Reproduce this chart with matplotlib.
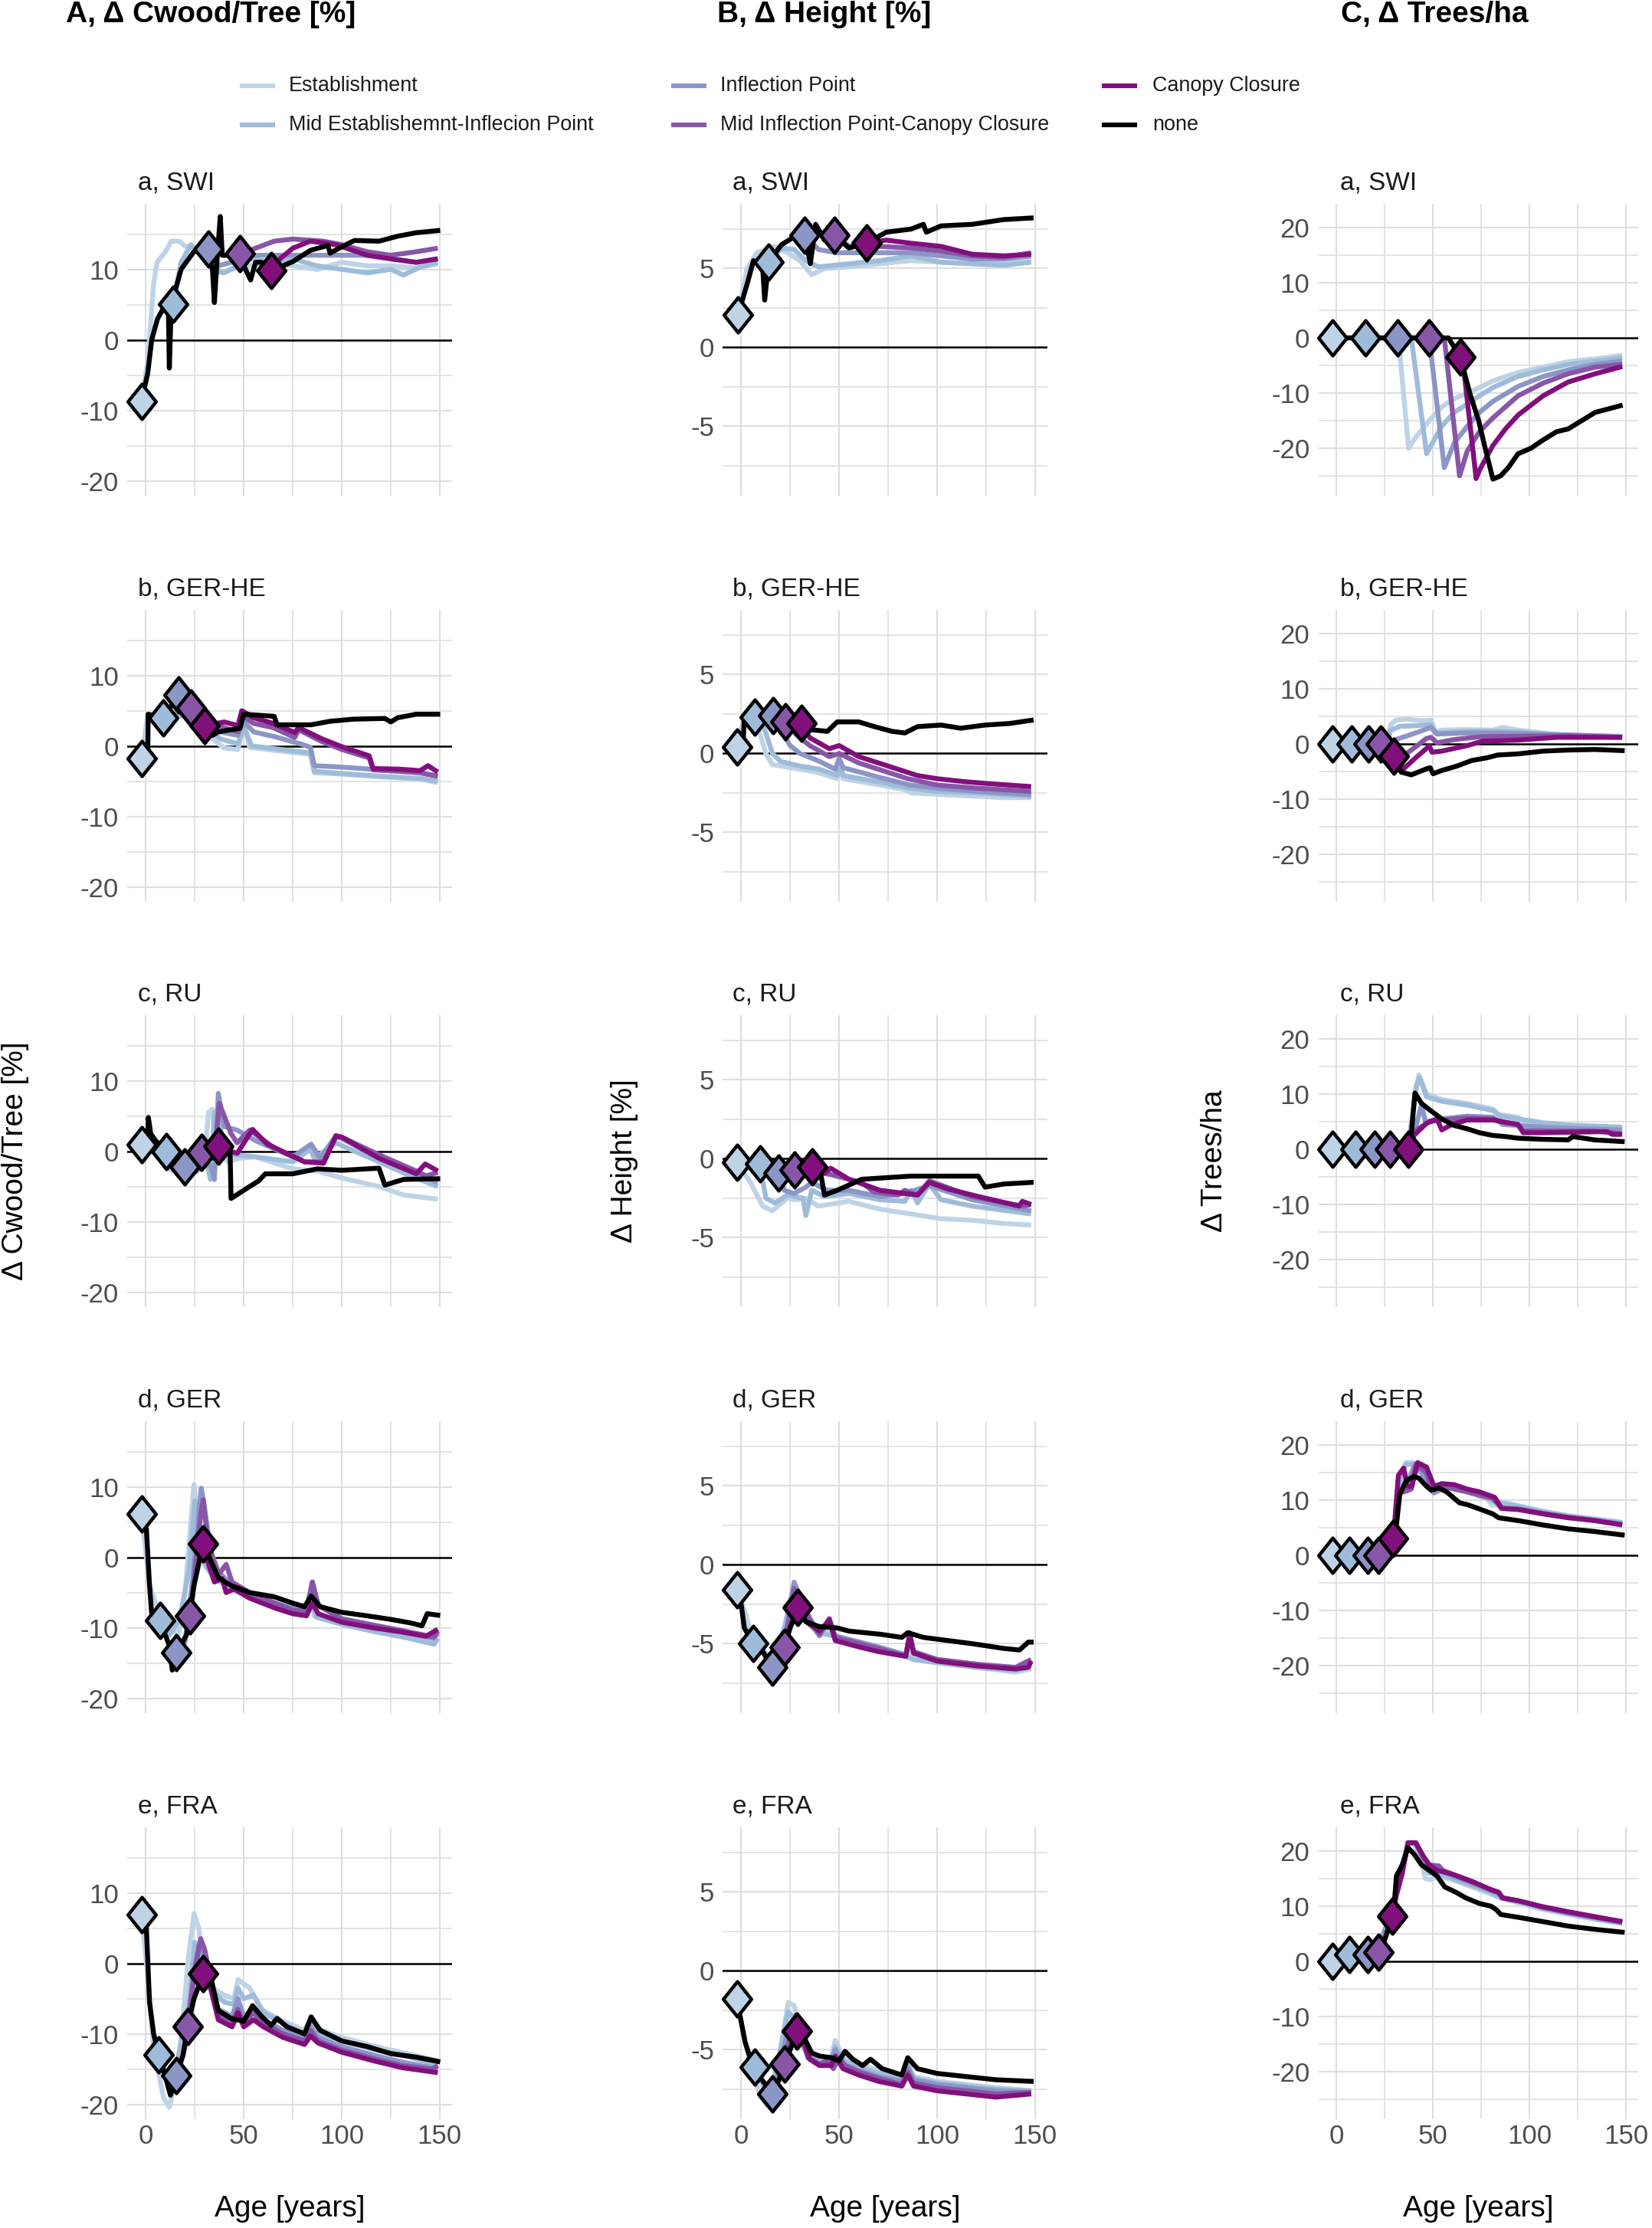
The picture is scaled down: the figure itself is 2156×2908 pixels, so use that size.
import matplotlib
matplotlib.use("Agg")
import matplotlib.pyplot as plt
from matplotlib.path import Path
from matplotlib.lines import Line2D

plt.rcParams["font.family"] = ["Liberation Sans", "DejaVu Sans"]

# ---------------------------------------------------------------- labels
SERIES_KEYS = ["est", "mid_est", "infl", "mid_infl", "cc", "none"]
SERIES_LABELS = ["Establishment", "Mid Establishemnt-Inflecion Point", "Inflection Point",
                 "Mid Inflection Point-Canopy Closure", "Canopy Closure", "none"]
SERIES_COLORS = ["#bfd3e6", "#9ebcda", "#8c96c6", "#8856a7", "#810f7c", "#000000"]
SITE_LABELS = ["a, SWI", "b, GER-HE", "c, RU", "d, GER", "e, FRA"]
METRIC_TITLES = ["A, \u0394 Cwood/Tree [%]", "B, \u0394 Height [%]", "C, \u0394 Trees/ha"]
Y_LABELS = ["\u0394 Cwood/Tree [%]", "\u0394 Height [%]", "\u0394 Trees/ha"]
X_LABEL = "Age [years]"
X_TICKS = [0, 50, 100, 150]
X_MINOR = [25, 75, 125]
Y_TICKS = [[-20, -10, 0, 10], [-5, 0, 5], [-20, -10, 0, 10, 20]]
Y_MINOR = [[-15, -5, 5, 15], [-7.5, -2.5, 2.5, 7.5], [-25, -15, -5, 5, 15]]

# ---------------------------------------------------------------- data: (age, value)
# ---- SWI
CWOOD_SWI = {
    "est": [(-2.2, -8.7), (1, -3), (4, 8), (5.7, 11), (10, 12.5), (13, 14), (17, 14), (20, 13.3), (25, 13),
            (31, 11), (37, 9.5), (43.5, 10), (53, 10.5), (63, 11), (75, 10.5), (87.5, 10), (100, 11),
            (113, 10.5), (125, 10.5), (138, 10.2), (149, 10.8)],
    "mid_est": [(14, 5.1), (18, 11), (23, 13.5), (28, 12), (35.5, 10), (40, 9.5), (43.5, 10), (53, 11.5),
                (65.5, 11), (75, 11.5), (87.5, 10.5), (100, 10), (113, 9.5), (125, 10), (131.5, 9.2),
                (140, 10.3), (149, 11)],
    "infl": [(32, 12.9), (37, 10.5), (43.5, 11), (53, 12), (75, 12), (84, 12), (100, 12), (113, 12),
             (125, 11.5), (138, 11), (149, 11.5)],
    "mid_infl": [(48, 12.2), (56, 13), (65.5, 14), (75, 14.3), (90.5, 14), (100, 13.5), (113, 12.5),
                 (125, 12), (138, 12.5), (149, 13)],
    "cc": [(64, 9.9), (68.5, 11.5), (75, 13), (84, 14), (97, 13.5), (113, 12), (125, 11.5), (138, 11),
           (149, 11.5)],
    "none": [(-2.2, -8.7), (1, -4.7), (3, 0), (6, 3), (10, 5), (11.5, 4.5), (12, -4), (13, 5), (18, 10),
             (24.5, 12.5), (32, 12.9), (34, 10), (35, 5.3), (36.5, 12), (38, 17.5), (39, 12), (43.5, 12),
             (47.5, 12.2), (50, 10.5), (53.5, 8.5), (56, 11), (59, 11), (64, 9.9), (70, 10.5), (75, 11.1),
             (84, 12.7), (93, 13.4), (94, 12.3), (100, 13.2), (106.5, 14.1), (119, 14), (128.5, 14.7),
             (138, 15.2), (149, 15.5)],
}
HEIGHT_SWI = {
    "est": [(-1.6, 2.06), (3, 5), (8, 6), (17, 6.4), (23.6, 6), (30, 5.5), (36, 4.6), (42.5, 5), (55, 5.1),
            (71, 5.3), (86.7, 5.5), (102, 5.4), (118, 5.3), (134, 5.3), (148, 5.5)],
    "mid_est": [(14, 5.4), (20.5, 6.3), (27, 6.2), (33, 5.5), (39.4, 5.1), (55, 5.3), (71, 5.5),
                (86.7, 5.8), (102, 5.4), (134, 5.2), (148, 5.4)],
    "infl": [(32.5, 7.1), (39.4, 6.2), (48.8, 6.0), (71, 6.0), (86.7, 6.0), (102, 5.8), (118, 5.6),
             (134, 5.6), (148, 5.8)],
    "mid_infl": [(47.6, 7.1), (55, 6.4), (71, 6.4), (86.7, 6.3), (102, 6.1), (118, 5.8), (134, 5.7),
                 (148, 6.0)],
    "cc": [(64, 6.6), (74, 6.8), (86.7, 6.6), (102, 6.4), (118, 5.9), (134, 5.8), (148, 5.9)],
    "none": [(-1.6, 2.06), (3, 4), (6.3, 5.5), (11, 5), (12, 3), (14, 5.4), (20.5, 6.5), (27, 7),
             (32.5, 7.1), (35.3, 5.3), (38, 7.8), (42.5, 6.8), (47.6, 7.1), (55, 6.3), (64, 6.6), (74, 7.3),
             (86.7, 7.5), (93, 7.8), (94.5, 7.3), (102, 7.7), (118, 7.8), (134, 8.1), (148, 8.2)],
}
TREES_SWI = {
    "est": [(-2.2, 0), (32, 0), (37.3, -20), (41, -18), (48, -15), (54.5, -12.5), (61, -11), (67.7, -10),
            (74, -9), (81, -7.8), (87.5, -7), (94, -6.3), (107, -5.3), (120, -4.3), (134, -3.8), (148, -3.2)],
    "mid_est": [(14.9, 0), (38.7, 0), (46.6, -21), (54.5, -16), (61, -13.5), (67.7, -12), (74, -10.5),
                (81, -9), (94, -7), (107, -5.8), (120, -4.8), (134, -4.2), (148, -3.6)],
    "infl": [(31.7, 0), (48, 0), (55.8, -23.5), (61, -19), (67.7, -16), (74, -13.5), (81, -11.5),
             (94, -8.8), (107, -7), (120, -5.8), (134, -4.8), (148, -4.2)],
    "mid_infl": [(47.9, 0), (55.8, 0), (63.7, -25), (67.7, -20.5), (74, -17), (81, -14.5), (94, -10.5),
                 (107, -8.2), (120, -6.5), (134, -5.3), (148, -4.8)],
    "cc": [(64.1, -3.5), (66, -6), (72.3, -25.5), (74, -24), (81, -19.5), (87.5, -16.5), (94, -14),
           (107, -10.5), (120, -8), (134, -6.5), (148, -5.2)],
    "none": [(-2.2, 0), (58, 0), (64.1, -3.5), (69, -10), (73.6, -15), (77, -20), (81, -25.6), (85, -25),
             (89, -23.5), (94, -21), (100.7, -20), (107, -18.5), (114, -17), (120, -16.5), (127, -15),
             (134, -13.5), (147, -12.3)],
}
# ---- GER-HE
CWOOD_GERHE = {
    "est": [(-2.2, -1.8), (1, 4.5), (8.8, 4), (17, 5), (25, 3.5), (30, 2.5), (34, 1), (40, -0.3),
            (47, -0.5), (50, 3.0), (53, -0.2), (65, -0.6), (84, -1.2), (86, -3.8), (100, -4.0), (120, -4.4),
            (140, -4.7), (149, -5.2)],
    "mid_est": [(8.8, 4), (15, 4.5), (22, 4), (30, 2.8), (38, 1.0), (47, 0.3), (50, 2.8), (54, 0),
                (66, -0.4), (84, -1.0), (86, -3.6), (100, -3.9), (120, -4.3), (140, -4.6), (149, -5.0)],
    "infl": [(16.7, 7.2), (22, 5), (30, 3.5), (38, 2.0), (47, 1.5), (50, 3.5), (55, 2.0), (66, 1.3),
             (80, 0.2), (84, -0.2), (86, -2.8), (100, -3.0), (120, -3.4), (140, -3.8), (149, -4.3)],
    "mid_infl": [(23, 5.4), (30, 3.8), (40, 2.6), (47, 2.0), (49, 4.4), (55, 3.2), (65, 2.6), (76, 1.2),
                 (78, 2.3), (90, 0.6), (100, -0.5), (114, -1.7), (116, -3.4), (130, -3.6), (140, -3.8),
                 (149, -4.3)],
    "cc": [(30, 2.9), (40, 3.4), (47, 2.9), (49, 5.0), (55, 4.0), (65, 3.2), (76, 1.9), (78, 2.6), (90, 1.0),
           (100, -0.1), (114, -1.4), (116, -3.2), (130, -3.3), (140, -3.5), (144, -2.8), (149, -3.7)],
    "none": [(-2.2, -1.8), (1, -1.5), (1.2, 4.5), (8.8, 4.0), (16.7, 7.2), (23, 5.4), (30, 2.9), (34, 1.5),
             (37, 2), (43.5, 2.3), (48, 2.5), (50, 4.5), (65.5, 4.2), (67, 3), (75, 3), (84.4, 3.0), (94, 3.5),
             (106, 3.8), (122, 3.9), (125, 3.4), (128.5, 4.0), (138, 4.5), (149, 4.5)],
}
HEIGHT_GERHE = {
    "est": [(-2.2, 0.4), (1.6, 2.3), (7, 2.3), (12.6, 0), (15.8, -0.7), (20.5, -0.8), (30, -1.0),
            (39, -1.2), (49, -1.6), (50.5, -0.8), (52, -1.6), (71, -2.0), (83.5, -2.3), (86.7, -2.5),
            (102, -2.6), (118, -2.7), (134, -2.8), (148, -2.8)],
    "mid_est": [(7, 2.3), (12, 1.5), (16, 0), (20, -0.5), (30, -0.8), (40, -1.0), (49, -1.4), (50.5, -0.5),
                (52, -1.4), (70, -1.8), (86, -2.2), (100, -2.4), (120, -2.5), (148, -2.7)],
    "infl": [(16.4, 2.4), (20, 1.5), (25, 0.5), (30, 0), (40, -0.5), (48, -1.0), (50, -0.3), (52, -0.9),
             (70, -1.5), (86, -2.0), (100, -2.2), (120, -2.4), (148, -2.6)],
    "mid_infl": [(22.7, 2.0), (28, 1.2), (35, 0.5), (45, -0.2), (50, 0), (60, -0.6), (70, -1.0),
                 (85, -1.6), (100, -2.0), (120, -2.2), (148, -2.4)],
    "cc": [(30.6, 1.9), (35, 1.0), (45, 0.3), (50, 0.5), (60, -0.2), (70, -0.6), (80, -1.0), (90, -1.4),
           (100, -1.6), (115, -1.8), (125, -1.9), (148, -2.1)],
    "none": [(-2.2, 0.4), (1, 0.6), (1.6, 2.3), (7, 2.3), (16.4, 2.4), (22.7, 2.0), (30.6, 1.9), (36, 1.5),
             (44, 1.4), (49, 2.0), (60, 2.0), (68, 1.7), (77, 1.4), (83.5, 1.3), (90, 1.7), (102, 1.8),
             (112, 1.6), (124.5, 1.8), (137, 1.9), (148, 2.1)],
}
TREES_GERHE = {
    "est": [(-2.2, 0), (26, 0), (28, 3.5), (30.7, 4.3), (36, 4.5), (44, 4.2), (49, 4.3), (51, 2.2),
            (54.5, 2.5), (67.7, 2.6), (81, 2.5), (86, 3.0), (94, 2.5), (107, 2.0), (120, 1.5), (134, 1.5),
            (148, 1.4)],
    "mid_est": [(7.9, 0), (26, 0), (28, 2.5), (33, 3.2), (41, 3.3), (49, 3.5), (51, 2.0), (67.7, 2.3),
                (81, 2.3), (94, 2.2), (107, 1.8), (134, 1.5), (148, 1.3)],
    "infl": [(16.6, 0), (26, 0), (30.7, 0.8), (41, 2), (49, 3.0), (52, 1.8), (67.7, 2.0), (81, 2.0),
             (94, 1.9), (120, 1.6), (148, 1.3)],
    "mid_infl": [(22.8, 0), (28, -1), (33.4, -2.5), (41, -0.5), (46.6, 1.0), (49, 1.2), (52, 0.2),
                 (61, 0.8), (74, 1.3), (94, 1.4), (120, 1.5), (148, 1.2)],
    "cc": [(29.7, -2.2), (34.7, -4.5), (41, -2.5), (46.6, -0.8), (48, -0.3), (49.4, -1.5), (54.5, -1.3),
           (67.7, -0.3), (75.6, 0.5), (94, 0.7), (114, 1.2), (148, 1.2)],
    "none": [(-2.2, 0), (25, 0), (29.7, -2.2), (33.4, -5.1), (38.7, -5.6), (46.6, -4.5), (48.5, -4.3),
             (50, -5.4), (54.5, -4.8), (62.4, -4), (70, -3), (78, -2.5), (83.5, -2), (94, -1.8), (107, -1.3),
             (120, -1.1), (134, -1.0), (148, -1.2)],
}
# ---- RU
CWOOD_RU = {
    "est": [(-2.2, 0.9), (5, 0), (12, -2.5), (18, -3.5), (25, -2), (30, -1), (32, 5.5), (34, 6), (36, 0),
            (42, -1.5), (48, -1.0), (56, -0.8), (75, -2.5), (87.5, -2.8), (100, -3.8), (119, -5),
            (131.5, -6.2), (149, -6.8)],
    "mid_est": [(10.4, 0), (15, -2), (20, -3), (27, -1.8), (31, -1.5), (33, -4), (35, 5.5), (37, 5.8),
                (40, -0.5), (46, -0.5), (56, -0.8), (75, -1.5), (84, 0.3), (86, -1), (97, 1.2), (100, 0.8),
                (119, -1.5), (135, -3.5), (149, -5)],
    "infl": [(19.8, -2.2), (25, -3), (30, -2), (33, -2), (35, -4), (37, 8.2), (40, 3.5), (46.6, 3),
             (56, 1.5), (75, -0.8), (84.4, 1.0), (89, -1.0), (97, 2.2), (100, 1.8), (119, -1.0), (138, -3.0),
             (149, -4.5)],
    "mid_infl": [(28.3, -0.2), (33, -1), (35, -1), (37.5, 6.8), (43.5, 2.5), (46.6, 1.2), (53, 3.0),
                 (65.5, 0.5), (81, -1.5), (90.7, -1.5), (97, 2.0), (100, 2.0), (119, -0.5), (138, -2.8),
                 (143, -3.5), (149, -3.0)],
    "cc": [(37.2, 0.7), (43.5, 0), (46.6, -0.3), (54.5, 3.1), (62, 1.0), (81, -1.5), (90.7, -1.7),
           (97, 2.2), (100, 2.0), (119, -1.0), (138, -3.2), (142.6, -1.8), (149, -2.8)],
    "none": [(-2.2, 0.9), (1, 1.5), (1.3, 4.8), (2.5, 2.5), (5, 1.5), (10.4, 0), (15, -1.5), (19.8, -2.2),
             (24, -1), (28.3, -0.2), (33, 0.5), (37.2, 0.7), (40, 0), (43, 0), (43.5, -6.7), (53, -5),
             (57.6, -4.2), (61, -3.2), (75, -3.2), (87.5, -2.5), (100, -2.7), (119, -2.4), (122, -4.8),
             (131.5, -4.0), (149, -3.9)],
}
HEIGHT_RU = {
    "est": [(-2.2, -0.2), (4.7, -1.5), (11, -3), (15.8, -3.3), (23.6, -2.5), (27, -2.6), (33, -2.5),
            (39.4, -3.0), (55, -2.7), (71, -3.2), (86.7, -3.5), (102, -3.8), (118, -3.9), (134, -4.1),
            (148, -4.2)],
    "mid_est": [(9.5, -0.3), (12.6, -2.5), (17.3, -2.8), (23.6, -2.3), (31.5, -2.5), (33, -3.6), (36, -2.0),
                (42.5, -2.4), (55, -2.2), (71, -2.6), (83.5, -2.7), (86.7, -2.0), (90, -2.8), (96, -1.6),
                (102, -2.6), (118, -3.0), (148, -3.5)],
    "infl": [(19, -0.9), (22, -2.0), (27, -2.2), (33, -1.8), (36, -1.5), (44, -2.0), (55, -2.0), (71, -2.4),
             (83.5, -2.2), (96, -1.7), (118, -2.6), (148, -3.3)],
    "mid_infl": [(27.4, -0.7), (36, -0.8), (45.7, -1.0), (55, -1.3), (61.5, -1.5), (67.7, -2.1), (80, -2.3),
                 (83.5, -2.0), (90, -2.3), (96, -1.4), (118, -2.4), (143.5, -3.0), (148, -2.9)],
    "cc": [(36.2, -0.5), (42.5, -0.9), (45.7, -0.6), (55, -1.3), (71, -2.0), (83.5, -2.2), (90, -2.3),
           (96, -1.5), (105, -1.9), (118, -2.3), (141.8, -3.0), (143.5, -2.7), (148, -2.9)],
    "none": [(-2.2, -0.2), (9.5, -0.3), (19, -0.9), (27.4, -0.7), (36.2, -0.5), (40, -0.5), (42.5, -2.3),
             (49, -2.0), (58, -1.5), (61.5, -1.3), (74, -1.2), (86.7, -1.1), (99, -1.1), (121, -1.1),
             (124.5, -1.8), (134, -1.6), (148, -1.5)],
}
TREES_RU = {
    "est": [(-2.2, 0), (37, 0), (40, 8), (42.6, 13.5), (46.6, 10), (54.5, 9.0), (67.7, 8.3), (81, 7.3),
            (84, 6.3), (94, 5.8), (96.7, 5.0), (107, 4.7), (120, 4.3), (134, 4.0), (148, 4.0)],
    "mid_est": [(9.6, 0), (37, 0), (41.3, 11.5), (43, 13), (46.6, 9.5), (54.5, 8.7), (67.7, 8.0), (81, 7.0),
                (85, 6.0), (94, 5.5), (107, 4.8), (120, 4.4), (148, 4.0)],
    "infl": [(19.5, 0), (37, 0), (41.3, 4.5), (44, 8), (46, 5.0), (54.5, 5.5), (67.7, 6.0), (81, 5.8),
             (86, 4.5), (94, 4.3), (107, 4.0), (120, 3.8), (148, 3.5)],
    "mid_infl": [(27.7, 0), (37, 0), (41.3, 3.5), (48, 5.0), (54.5, 5.3), (67.7, 5.7), (81, 5.5), (87.5, 4.8),
                 (94, 4.5), (96.7, 3.3), (107, 3.3), (134, 3.3), (148, 2.8)],
    "cc": [(37, 0), (40, 2.5), (46.6, 4.7), (52, 5.5), (54.5, 3.5), (59.8, 4.5), (67.7, 5.3), (81, 5.3),
           (94, 4.5), (96.7, 3.0), (107, 3.0), (140, 3.2), (143, 2.7), (148, 2.7)],
    "none": [(-2.2, 0), (37, 0), (38.5, 2), (40.6, 10.2), (44, 8.3), (48, 7.2), (54.5, 5.5), (61, 4.3),
             (67.7, 3.7), (74, 3.0), (81, 2.5), (87.5, 2.3), (94, 2.0), (107, 1.8), (120, 1.7), (122.4, 2.3),
             (133.6, 1.7), (148, 1.4)],
}
# ---- GER
CWOOD_GER = {
    "est": [(-2.2, 6.1), (1.9, -4), (5.7, -7), (12, -10), (16.7, -11), (20, -5), (23, 5), (24.6, 10.3),
            (26.8, 5), (29.3, 0), (34, -2.5), (43.5, -4.5), (53, -5.5), (65.5, -6.8), (75, -7.5), (81, -7.8),
            (84.4, -4.5), (86, -8.3), (100, -9.3), (116, -10.2), (131.5, -11), (147.4, -12.3), (149, -11.5)],
    "mid_est": [(7.2, -9), (12, -11), (17, -9), (22, -2), (25, 8), (27, 5), (30, -1), (35, -3), (44, -4.5),
                (53, -5.5), (66, -6.8), (75, -7.5), (82, -7.8), (84.5, -5.5), (87, -8.5), (100, -9.5),
                (116, -10.5), (131, -11.3), (147, -12.3), (149, -11.5)],
    "infl": [(15.7, -13.5), (20, -12), (24, -3), (27, 6), (28.3, 9.8), (30, 7), (33, 1), (37, -2),
             (44, -4), (53, -5.3), (66, -6.5), (75, -7.2), (82, -7.5), (85, -3.5), (88, -6.8), (100, -8.8),
             (116, -9.8), (131, -10.6), (147, -11.5), (149, -10.8)],
    "mid_infl": [(22.4, -8.3), (25, -2), (28, 6), (29.3, 8.2), (31, 4), (34, 0), (37, -2.5), (41, -1),
                 (44, -3.5), (53, -5), (66, -6.5), (75, -7.5), (82, -7.6), (85, -3.5), (88, -6.8),
                 (100, -8.7), (116, -9.6), (131, -10.4), (147, -11.3), (149, -10.5)],
    "cc": [(29.3, 1.9), (32, -1), (35, -3.5), (39, -3), (41, -5), (45, -4.5), (53, -5.8), (66, -7.2),
           (75, -8), (82, -8.3), (85, -6.5), (88, -8), (100, -9.2), (116, -10), (131, -10.6), (143, -11.2),
           (149, -10.2)],
    "none": [(-2.2, 6.1), (0.3, 4), (1.9, -4), (3, -8), (7.2, -9), (12, -12.5), (13.5, -16), (15.7, -13.5),
             (20.8, -11), (22.4, -8.3), (24.6, -4), (27.7, 0), (29.3, 1.9), (34, -1), (37, -2.9), (43.5, -4),
             (53, -5), (65.5, -5.6), (75, -6.5), (81, -7.0), (84.4, -5.5), (89, -7.0), (100, -7.8),
             (113, -8.3), (125, -8.8), (135, -9.3), (141, -9.7), (143.6, -8.0), (149, -8.2)],
}
HEIGHT_GER = {
    "est": [(-2.2, -1.6), (2, -3), (6, -4.8), (12, -5.5), (16, -6), (20, -5.5), (24, -3), (27, -1.3),
            (30, -2), (35, -3.8), (40, -4.5), (44, -4.2), (50, -4.6), (70, -5.3), (85, -5.8), (86, -5.0),
            (88, -6.0), (100, -6.2), (120, -6.5), (140, -6.8), (148, -6.6)],
    "mid_est": [(6.3, -5), (12, -5.6), (16, -6), (22, -4), (27, -1.2), (30, -2), (35, -3.8), (40, -4.3),
                (50, -4.6), (70, -5.3), (84, -5.8), (88, -6.0), (100, -6.2), (120, -6.5), (140, -6.7),
                (148, -6.4)],
    "infl": [(15.8, -6.5), (22, -5), (27, -1.1), (30, -2.0), (35, -3.6), (40, -4.5), (45, -3.5), (48, -4.5),
             (70, -5.2), (84, -5.7), (86, -4.5), (88, -5.6), (100, -6.0), (120, -6.3), (140, -6.6),
             (148, -6.3)],
    "mid_infl": [(22, -5.2), (27, -1.5), (30, -2.2), (35, -3.4), (40, -4.4), (45, -3.4), (48, -4.6),
                 (70, -5.3), (84, -5.8), (86, -4.3), (88, -5.5), (100, -6.0), (120, -6.3), (140, -6.5),
                 (148, -6.0)],
    "cc": [(29, -2.7), (33, -3.6), (40, -4.2), (45, -3.5), (48, -4.8), (60, -5.2), (70, -5.5), (84, -5.8),
           (86, -4.5), (88, -5.6), (100, -6.1), (120, -6.4), (140, -6.6), (146.5, -6.5), (148, -6.1)],
    "none": [(-2.2, -1.6), (0, -2.5), (1.6, -4.0), (6.3, -5.0), (11, -5.5), (15.8, -6.5), (20.5, -6),
             (22, -5.2), (25, -4), (29, -2.7), (33, -3.6), (39.4, -3.9), (49, -4.0), (55, -4.2), (71, -4.4),
             (82, -4.6), (85, -4.3), (93, -4.6), (118, -5.0), (134, -5.3), (142, -5.4), (146.5, -4.9),
             (148, -4.9)],
}
TREES_GER = {
    "est": [(-2.2, 0), (28, 0), (30, 4), (33.4, 15), (36, 16.8), (40, 16.8), (44, 15.3), (49.2, 13),
            (52, 12.5), (57, 12.6), (67.7, 11.6), (78, 10.2), (81, 9), (84, 9.8), (94, 9.0), (107, 8),
            (120, 7.2), (134, 6.6), (148, 6.0)],
    "mid_est": [(6.7, 0), (28, 0), (30, 4), (33.4, 14.5), (36, 16.5), (40, 16.5), (44, 15), (49.2, 12.8),
                (57, 12.5), (67.7, 11.5), (78, 10.3), (84, 9.5), (94, 8.9), (107, 7.9), (120, 7.1),
                (134, 6.5), (148, 5.9)],
    "infl": [(16, 0), (28, 0), (30, 4), (32.7, 12), (36, 12.5), (40, 16), (44, 15), (48, 12), (50.5, 11.3),
             (57, 12.4), (67.7, 11.5), (81, 10.4), (85.5, 8.6), (94, 8.4), (107, 7.6), (120, 6.9),
             (134, 6.3), (148, 5.6)],
    "mid_infl": [(21.8, 0), (28, 0), (30, 4), (32.7, 11.5), (35, 11.5), (38.7, 12), (41, 16.5), (46.6, 15),
                 (49, 12.2), (54.5, 12.5), (67.7, 11.5), (81, 10.3), (85.5, 8.5), (94, 8.4), (107, 7.6),
                 (120, 6.9), (134, 6.3), (148, 5.6)],
    "cc": [(29.4, 3.1), (32, 14.5), (34.7, 15.8), (36.7, 12.5), (39, 12.5), (42, 16.8), (46.6, 16),
           (50.5, 12.5), (54.5, 13), (61, 12.8), (67.7, 12), (74, 11.5), (82, 10.5), (85.5, 8.5), (94, 8.3),
           (107, 7.5), (120, 6.8), (134, 6.3), (148, 5.5)],
    "none": [(-2.2, 0), (27, 0), (29.4, 3.1), (30.7, 4.5), (32.7, 11), (36, 13.5), (40, 14.3), (42.6, 14),
             (46.6, 12.5), (49.2, 11.8), (53, 12.2), (57, 11.5), (63.7, 9.5), (67.7, 9.2), (75.6, 8.2),
             (81, 7.5), (84, 6.8), (94, 6.3), (107, 5.5), (120, 4.8), (134, 4.3), (148, 3.7)],
}
# ---- FRA
CWOOD_FRA = {
    "est": [(-2.2, 6.9), (1, -2), (4, -12), (9, -19), (12, -20.4), (15, -17), (18.3, -10), (21.4, 0),
            (24.6, 7.1), (27, 5), (29.3, 0), (34, -3.5), (40, -4.5), (45, -5.0), (47, -2.3), (53, -3.5),
            (59, -6.5), (68.6, -8), (81, -9.5), (84.4, -7.5), (88, -9.3), (100, -10.5), (116, -11.7),
            (131.5, -12.7), (149, -13.8)],
    "mid_est": [(6.6, -13), (12, -17), (16, -14), (22, -6), (25, 3), (27, 2), (30, -1.5), (34, -4),
                (40, -5.5), (45, -5.8), (47, -3.5), (50, -5.0), (55, -4.5), (60, -7), (70, -8.5), (81, -10),
                (84, -8), (88, -9.8), (100, -11), (116, -12.2), (131, -13), (149, -14.5)],
    "infl": [(15.7, -15.9), (20, -12), (24, -2), (27, 2.5), (30, 1), (33, -3), (37, -6.5), (44, -7.5),
             (47, -5), (50, -7.5), (55, -6.5), (60, -8), (70, -9.5), (81, -10.5), (84, -9), (88, -10.5),
             (100, -11.8), (116, -13), (131, -14), (149, -15)],
    "mid_infl": [(21.4, -8.9), (25, -1), (28, 3.5), (30, 2), (33, -2), (37, -7.5), (44, -8.5), (47, -6.5),
                 (50, -8.5), (55, -7), (60, -8.5), (70, -10), (81, -11), (84, -9.5), (88, -11), (100, -12.3),
                 (116, -13.5), (131, -14.5), (146, -15), (149, -14.5)],
    "cc": [(29.3, -1.5), (33, -3.5), (37, -8), (44, -9), (47, -7), (50, -9.0), (55, -8), (60, -9),
           (70, -10.5), (81, -11.5), (84, -10.3), (88, -11.3), (100, -12.6), (116, -13.8), (131, -14.8),
           (149, -15.5)],
    "none": [(-2.2, 6.9), (0.3, 5), (1.9, -5.5), (4, -10), (6.6, -13), (10.4, -16.5), (12.6, -18.7),
             (15.7, -15.9), (19, -13), (21.4, -8.9), (24.6, -5), (29.3, -1.5), (32.4, -1), (37, -6.7),
             (43.5, -7.8), (50, -8.2), (54.5, -6.0), (59, -7.5), (64, -8.8), (67, -7.8), (72, -9.0),
             (81, -10.0), (84.4, -7.6), (89, -9.5), (100, -11.0), (113, -11.8), (125, -12.8), (138, -13.3),
             (149, -13.9)],
}
HEIGHT_FRA = {
    "est": [(-2.2, -1.8), (2, -4.5), (6, -6.5), (10, -8), (13, -8.5), (16, -7.5), (20, -5), (24, -2),
            (27, -2.2), (30, -3.5), (34, -5), (40, -5.6), (46, -5.5), (48, -4.4), (52, -5.5), (60, -5.9),
            (70, -6.3), (82, -6.8), (85, -5.8), (88, -6.7), (100, -7.0), (115, -7.2), (130, -7.4),
            (148, -7.6)],
    "mid_est": [(6.9, -6.1), (12, -7.5), (16, -7.2), (20, -5), (24, -2.6), (27, -3.0), (30, -4), (34, -5.2),
                (40, -5.8), (46, -5.6), (48, -4.8), (52, -5.7), (60, -6.1), (70, -6.5), (82, -6.9),
                (85, -6.0), (88, -6.8), (100, -7.1), (115, -7.3), (130, -7.5), (148, -7.6)],
    "infl": [(16, -7.8), (20, -6), (24, -3.5), (27, -3.0), (30, -4.2), (34, -5.4), (40, -5.9), (46, -5.8),
             (48, -5.0), (52, -5.9), (60, -6.3), (70, -6.7), (82, -7.0), (85, -6.1), (88, -6.9), (100, -7.2),
             (115, -7.4), (130, -7.6), (148, -7.7)],
    "mid_infl": [(22, -5.9), (25, -4.0), (28, -2.8), (31, -4.2), (34, -5.5), (40, -5.9), (44, -5.7),
                 (47, -6.2), (50, -5.5), (53, -6.0), (60, -6.4), (70, -6.8), (82, -7.2), (85, -6.4),
                 (88, -7.1), (100, -7.4), (115, -7.6), (130, -7.8), (148, -7.7)],
    "cc": [(28.4, -3.8), (32, -4.5), (35, -5.6), (40, -6.0), (46, -6.0), (48, -5.4), (52, -6.2), (60, -6.6),
           (70, -7.0), (82, -7.3), (85, -6.6), (88, -7.3), (100, -7.6), (115, -7.8), (130, -8.0),
           (148, -7.8)],
    "none": [(-2.2, -1.8), (2, -4.5), (4, -5.3), (6.9, -6.1), (10, -6.8), (13, -7.3), (16, -7.8), (19, -7.0),
             (22, -5.9), (25, -5), (28.4, -3.8), (32, -4.2), (36, -5.2), (40, -5.4), (46, -5.5), (50, -5.7),
             (53, -5.1), (57, -5.6), (62, -6.0), (66, -5.6), (72, -6.2), (82, -6.6), (85, -5.5), (90, -6.2),
             (100, -6.5), (115, -6.7), (130, -6.9), (148, -7.0)],
}
TREES_FRA = {
    "est": [(-2.2, 0), (6.7, 1.3), (16, 1.3), (21.8, 2), (28, 8), (33, 15), (37, 21.5), (40, 21.5), (44, 18),
            (46, 15), (49, 14.8), (52, 15.5), (60, 14.8), (70, 13.5), (80, 12.2), (85, 11.5), (94, 10.6),
            (107, 9.4), (120, 8.5), (134, 7.6), (148, 6.8)],
    "mid_est": [(6.7, 1.3), (21.8, 2), (28, 8), (33, 15), (37, 21.5), (41, 21.5), (45, 17.5), (48, 16),
                (52, 16), (60, 15), (70, 13.8), (80, 12.5), (85, 11.5), (94, 10.8), (107, 9.6), (120, 8.7),
                (134, 7.8), (148, 7.0)],
    "infl": [(16, 1.3), (22, 3), (28, 8.5), (33, 15.5), (37, 21.5), (41, 21.5), (45, 18.5), (50, 17),
             (54, 16.5), (60, 15.5), (70, 14.2), (80, 12.8), (84, 12.3), (86, 11.5), (94, 11), (107, 9.8),
             (120, 8.8), (134, 7.9), (148, 7.0)],
    "mid_infl": [(21.8, 1.7), (26, 5), (30, 11), (34, 16), (37, 21.5), (41, 21.5), (45, 19), (48, 17.5),
                 (53, 17.3), (55, 16.5), (60, 15.8), (70, 14.5), (80, 13), (84, 12.5), (86, 11.5), (94, 11),
                 (107, 9.8), (120, 8.9), (134, 8.0), (148, 7.2)],
    "cc": [(28.8, 8.2), (31, 12), (34, 16), (37, 21.5), (41, 21.5), (45, 19), (48, 17.5), (52, 16.5),
           (60, 15.8), (70, 14.5), (80, 13), (84, 12.5), (86, 11.5), (94, 11), (107, 9.9), (120, 9.0),
           (134, 8.1), (148, 7.2)],
    "none": [(-2.2, 0), (6.7, 1.3), (16, 1.3), (21.8, 1.7), (25, 4), (28.8, 8.2), (30, 11), (31, 15.5),
             (34, 17.5), (37, 20.6), (40, 19.5), (44, 17.5), (48, 16.5), (52, 15.5), (56, 13.5), (62, 12.5),
             (67, 11.5), (74, 10.5), (80, 10), (83, 9.3), (85, 8.5), (94, 8.0), (107, 7.2), (120, 6.4),
             (134, 5.8), (148, 5.3)],
}

PANELS = [
    [CWOOD_SWI, CWOOD_GERHE, CWOOD_RU, CWOOD_GER, CWOOD_FRA],
    [HEIGHT_SWI, HEIGHT_GERHE, HEIGHT_RU, HEIGHT_GER, HEIGHT_FRA],
    [TREES_SWI, TREES_GERHE, TREES_RU, TREES_GER, TREES_FRA],
]

# ---------------------------------------------------------------- layout (pixels)
W, H, DPI = 2156, 2908, 200
COL_LEFT = [166, 943, 1720.5]
COL_WIDTH = [424, 424, 417.5]
ROW_TOP = [266, 796, 1325, 1855, 2385]
PANEL_H = 381
YLIMS = [(-22.1, 19.3), (-9.4, 9.1), (-28.6, 24.3)]
XLIM = (-9.5, 156.3)
STRIP_X = [180, 956, 1749]
TITLE_X = [86, 936, 1750]
YLAB_X = [20, 815, 1585]

def fx(px):
    return px / W

def fy(py):
    return 1 - py / H

DIAMOND = Path([(0, 1), (0.8, 0), (0, -1), (-0.8, 0), (0, 1)],
               [Path.MOVETO, Path.LINETO, Path.LINETO, Path.LINETO, Path.CLOSEPOLY])

fig = plt.figure(figsize=(W / DPI, H / DPI), dpi=DPI)
fig.patch.set_facecolor("white")

GRID_C = "#dedede"
TICK_C = "#4d4d4d"

for c in range(3):
    for r in range(5):
        ax = fig.add_axes([fx(COL_LEFT[c]), fy(ROW_TOP[r] + PANEL_H),
                           fx(COL_WIDTH[c]), PANEL_H / H])
        ax.set_xlim(*XLIM)
        ax.set_ylim(*YLIMS[c])
        ax.set_xticks(X_TICKS)
        ax.set_xticks(X_MINOR, minor=True)
        ax.set_yticks(Y_TICKS[c])
        ax.set_yticks(Y_MINOR[c], minor=True)
        ax.grid(True, which="major", color=GRID_C, lw=0.75, zorder=0)
        ax.grid(True, which="minor", color=GRID_C, lw=0.6, zorder=0)
        ax.set_axisbelow(True)
        for s in ax.spines.values():
            s.set_visible(False)
        ax.tick_params(which="both", length=0)
        ax.tick_params(axis="y", labelsize=12.5, labelcolor=TICK_C, pad=4)
        ax.tick_params(axis="x", labelsize=12.5, labelcolor=TICK_C, pad=2)
        if r < 4:
            ax.set_xticklabels([])
        else:
            ax.set_xticklabels([str(t) for t in X_TICKS])
        ax.set_yticklabels([str(t) for t in Y_TICKS[c]])

        ax.axhline(0, color="black", lw=0.9, zorder=2)

        data = PANELS[c][r]
        # coloured series
        for i, key in enumerate(SERIES_KEYS[:5]):
            xs = [p[0] for p in data[key]]
            ys = [p[1] for p in data[key]]
            ax.plot(xs, ys, color=SERIES_COLORS[i], lw=2.3, zorder=3 + i * 0.1,
                    solid_joinstyle="round", solid_capstyle="butt")
        xs = [p[0] for p in data["none"]]
        ys = [p[1] for p in data["none"]]
        ax.plot(xs, ys, color="black", lw=2.3, zorder=4, solid_joinstyle="round")
        # event diamonds (first point of each coloured series)
        for i, key in enumerate(SERIES_KEYS[:5]):
            x0, y0 = data[key][0]
            ax.plot([x0], [y0], marker=DIAMOND, ms=16.5, mfc=SERIES_COLORS[i], mec="black",
                    mew=1.6, ls="none", zorder=6 + i, clip_on=False)

        fig.text(fx(STRIP_X[c]), fy(ROW_TOP[r] - 27), SITE_LABELS[r], fontsize=12,
                 ha="left", va="center", color="#1a1a1a")

    # column title
    fig.text(fx(TITLE_X[c]), fy(19), METRIC_TITLES[c], fontsize=14, fontweight="bold",
             ha="left", va="center", color="black")
    # y label (middle row only)
    fig.text(fx(YLAB_X[c]), fy(ROW_TOP[2] + PANEL_H / 2), Y_LABELS[c], fontsize=14,
             rotation=90, ha="center", va="center", color="black")
    # x label
    fig.text(fx(COL_LEFT[c] + COL_WIDTH[c] / 2), fy(2883), X_LABEL, fontsize=14,
             ha="center", va="center", color="black")

# legend (three columns of two entries)
LEG_KEY_X = [316, 879, 1441]
LEG_TXT_X = [377, 940, 1504]
LEG_ROW_Y = [112, 163]
for i, (lab, col) in enumerate(zip(SERIES_LABELS, SERIES_COLORS)):
    cc, rr = i // 2, i % 2
    y = fy(LEG_ROW_Y[rr])
    fig.add_artist(Line2D([fx(LEG_KEY_X[cc]), fx(LEG_KEY_X[cc] + 40)], [y, y],
                          transform=fig.transFigure, color=col, lw=2.2))
    fig.text(fx(LEG_TXT_X[cc]), y, lab, fontsize=9.7, ha="left", va="center", color="#1a1a1a")

fig.savefig("out.png", dpi=DPI, facecolor="white")
